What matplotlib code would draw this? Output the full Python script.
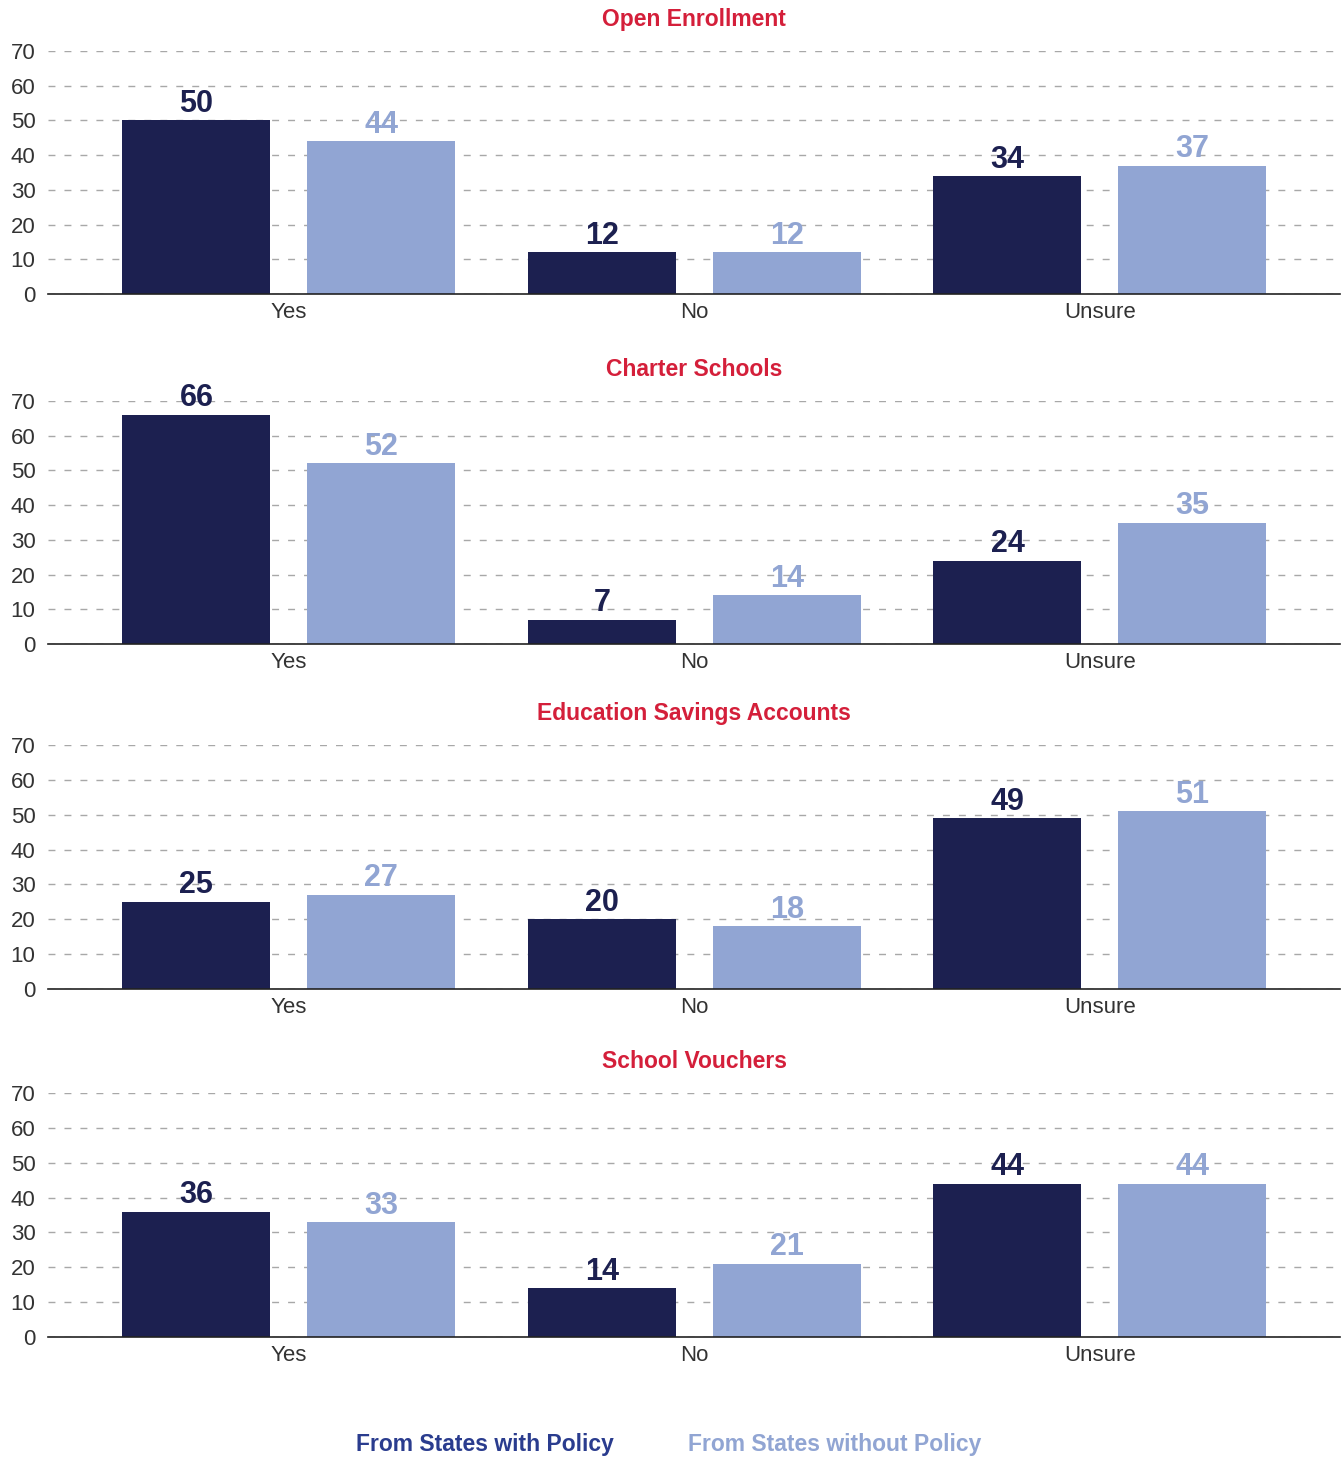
import numpy as np
import matplotlib.pyplot as plt

plt.rcParams['font.family'] = ['Liberation Sans', 'DejaVu Sans']

# Data
categories = ["Yes", "No", "Unsure"]
titles = ["Open Enrollment", "Charter Schools", "Education Savings Accounts", "School Vouchers"]
with_policy = [
    [50, 12, 34],
    [66, 7, 24],
    [25, 20, 49],
    [36, 14, 44],
]
without_policy = [
    [44, 12, 37],
    [52, 14, 35],
    [27, 18, 51],
    [33, 21, 44],
]
legend_labels = ["From States with Policy", "From States without Policy"]

DARK = "#1c2050"
LIGHT = "#91a5d3"
RED = "#d41f3a"
LEGEND_DARK = "#2a3c8e"
TEXT = "#333333"

fig = plt.figure(figsize=(13.44, 14.6), dpi=100)
W, H = 1344, 1460

# pixel positions of each panel (top gridline at 70, baseline at 0)
panel_px = [(51, 294), (401, 644), (745, 989), (1093, 1337)]
left_px, right_px = 48, 1340

x = np.arange(len(categories))
offset = 0.228
width = 0.365

for i, (top, bot) in enumerate(panel_px):
    ax = fig.add_axes([left_px / W, 1 - bot / H, (right_px - left_px) / W, (bot - top) / H])
    b1 = ax.bar(x - offset, with_policy[i], width, color=DARK, zorder=3)
    b2 = ax.bar(x + offset, without_policy[i], width, color=LIGHT, zorder=3)
    ax.bar_label(b1, padding=1, fontsize=22, fontweight="bold", color=DARK)
    ax.bar_label(b2, padding=1, fontsize=22, fontweight="bold", color=LIGHT)

    ax.set_xlim(-0.594, 2.592)
    ax.set_ylim(0, 70)
    ax.set_yticks(range(0, 71, 10))
    ax.set_xticks(x)
    ax.set_xticklabels(categories)
    ax.tick_params(axis="both", length=0, labelsize=16, labelcolor=TEXT)
    ax.tick_params(axis="y", pad=9)
    ax.tick_params(axis="x", pad=6)
    ax.grid(axis="y", color="#a8a8a8", linestyle=(0, (5, 6.5)), linewidth=1, zorder=0)
    for s in ["top", "right", "left"]:
        ax.spines[s].set_visible(False)
    ax.spines["bottom"].set_color("#222222")
    ax.spines["bottom"].set_linewidth(1.2)
    ax.spines["bottom"].set_zorder(4)

    ax.annotate(titles[i], xy=(0.5, 1), xycoords="axes fraction",
                xytext=(0, 23), textcoords="offset points",
                ha="center", va="center", fontsize=16.5, fontweight="bold",
                color=RED)

# Legend as coloured text
fig.text(356 / W, 1 - 1445 / H, legend_labels[0], ha="left", va="center",
         fontsize=16.5, fontweight="bold", color=LEGEND_DARK)
fig.text(688 / W, 1 - 1445 / H, legend_labels[1], ha="left", va="center",
         fontsize=16.5, fontweight="bold", color=LIGHT)

fig.savefig("out.png", dpi=100)
